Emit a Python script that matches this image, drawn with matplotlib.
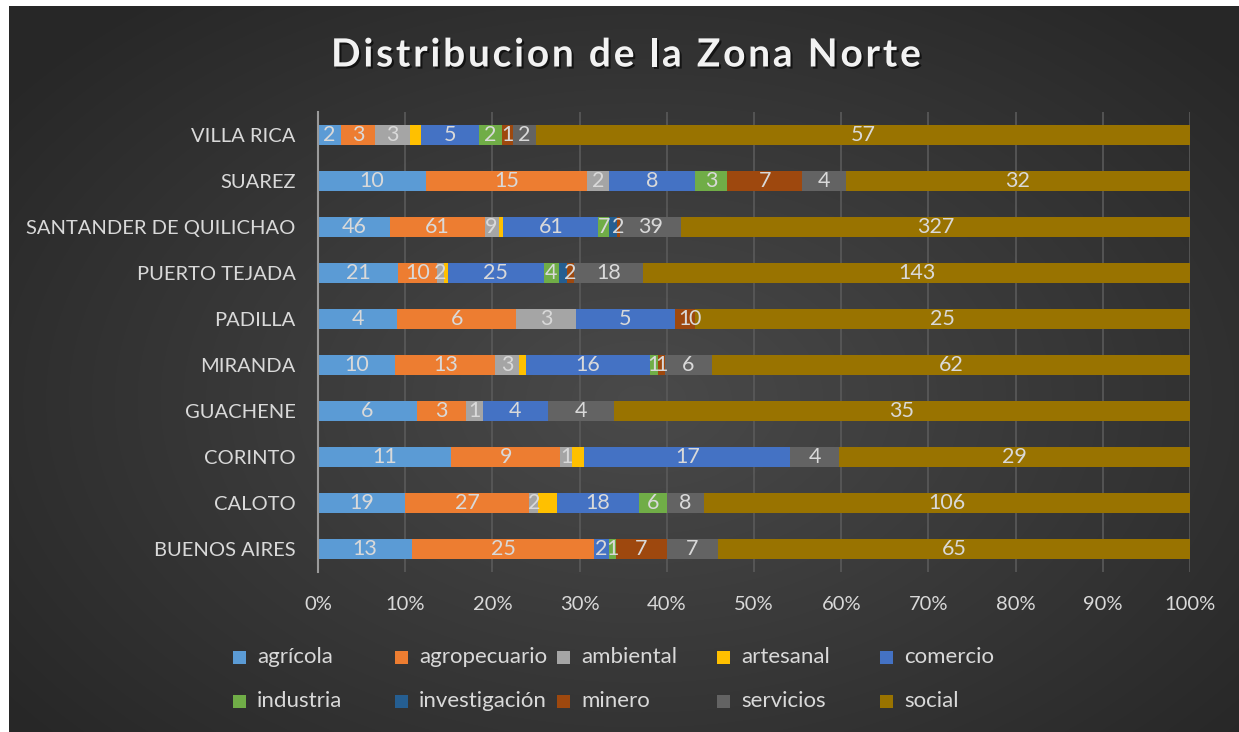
import numpy as np
import matplotlib
matplotlib.use("Agg")
import matplotlib.pyplot as plt
import matplotlib.patheffects as pe
from matplotlib.patches import Rectangle

# ---------------- data ----------------
categories = ["BUENOS AIRES", "CALOTO", "CORINTO", "GUACHENE", "MIRANDA",
              "PADILLA", "PUERTO TEJADA", "SANTANDER DE QUILICHAO", "SUAREZ", "VILLA RICA"]

series_names = ["agrícola", "agropecuario", "ambiental", "artesanal", "comercio",
                "industria", "investigación", "minero", "servicios", "social"]

agricola      = [13, 19, 11, 6, 10, 4, 21, 46, 10, 2]
agropecuario  = [25, 27, 9, 3, 13, 6, 10, 61, 15, 3]
ambiental     = [None, 2, 1, 1, 3, 3, 2, 9, 2, 3]
artesanal     = [None, 4, 1, None, 1, None, 1, 3, None, 1]
comercio      = [2, 18, 17, 4, 16, 5, 25, 61, 8, 5]
industria     = [1, 6, None, None, 1, None, 4, 7, 3, 2]
investigacion = [None, None, None, None, None, None, 2, 5, None, None]
minero        = [7, None, None, None, 1, 1, 2, 2, 7, 1]
servicios     = [7, 8, 4, 4, 6, 0, 18, 39, 4, 2]
social        = [65, 106, 29, 35, 62, 25, 143, 327, 32, 57]

series_values = [agricola, agropecuario, ambiental, artesanal, comercio,
                 industria, investigacion, minero, servicios, social]
series_colors = ["#5B9BD5", "#ED7D31", "#A5A5A5", "#FFC000", "#4472C4",
                 "#70AD47", "#255E91", "#9E480E", "#636363", "#997300"]
show_labels = [True, True, True, False, True, True, False, True, True, True]

xtick_vals = np.arange(0, 101, 10)
xtick_labels = [f"{v}%" for v in xtick_vals]
title = "Distribucion de la Zona Norte"

# ---------------- figure ----------------
W, H, DPI = 1239, 732, 100
fig = plt.figure(figsize=(W / DPI, H / DPI), dpi=DPI)
FONT = "Lato"
TXT = "#D9D9D9"

# background (radial gradient with white margin at top/left)
bg = fig.add_axes([0, 0, 1, 1], zorder=0)
bg.set_xlim(0, W)
bg.set_ylim(H, 0)
bg.axis("off")
yy, xx = np.mgrid[0:H, 0:W]
d = np.sqrt(((xx - 640) / 800.0) ** 2 + ((yy - 400) / 520.0) ** 2)
d = np.clip(d, 0, 1)
g = (0x4A - (0x4A - 0x27) * d) / 255.0
img = np.dstack([g, g, g])
img[:6, :, :] = 1.0
img[:, :9, :] = 1.0
bg.imshow(img, extent=(0, W, H, 0), aspect="auto", interpolation="bilinear")

# main axes
left, right = 318 / W, 1190 / W
top, bottom = 1 - 112 / H, 1 - 572 / H
ax = fig.add_axes([left, bottom, right - left, top - bottom], zorder=2)
ax.patch.set_alpha(0)

totals = np.zeros(len(categories))
for vals in series_values:
    totals += np.array([v if v is not None else 0 for v in vals], dtype=float)

ypos = np.arange(len(categories))
cum = np.zeros(len(categories))
bar_h = 0.44
for name, vals, col, lab in zip(series_names, series_values, series_colors, show_labels):
    raw = np.array([v if v is not None else 0 for v in vals], dtype=float)
    pct = raw / totals * 100
    ax.barh(ypos, pct, left=cum, height=bar_h, color=col, edgecolor="none", zorder=3,
            label=name)
    if lab:
        for i, v in enumerate(vals):
            if v is None:
                continue
            ax.text(cum[i] + pct[i] / 2, ypos[i], str(v), ha="center", va="center",
                    color=TXT, fontsize=15.5, family=FONT, zorder=5)
    cum += pct

ax.set_xlim(0, 100)
ax.set_ylim(-0.5, len(categories) - 0.5)
ax.set_xticks(xtick_vals)
ax.set_xticklabels(xtick_labels)
ax.set_yticks(ypos)
ax.set_yticklabels(categories)
for t in ax.get_xticklabels() + ax.get_yticklabels():
    t.set_family(FONT)
    t.set_fontsize(14.5)
    t.set_color(TXT)
ax.tick_params(axis="x", length=0, pad=17)
ax.tick_params(axis="y", length=0, pad=16)
for s in ["top", "right", "bottom"]:
    ax.spines[s].set_visible(False)
ax.spines["left"].set_color("#9A9A9A")
ax.spines["left"].set_linewidth(1.5)
ax.spines["left"].set_zorder(4)
ax.xaxis.grid(True, color="#5A5A5A", linewidth=1.2, zorder=1)
ax.set_axisbelow(True)

# ---------------- title with letter spacing ----------------
renderer = fig.canvas.get_renderer()
tprops = dict(family=FONT, fontsize=28, fontweight="bold")


def text_width(s):
    t = fig.text(0, 0, s, **tprops)
    w = t.get_window_extent(renderer).width
    t.remove()
    return w


natural = text_width(title)
n = len(title)
target = 921 - 331
sp = (target - natural) / (n - 1)
x0 = 331
tcy = 55
for i, ch in enumerate(title):
    if ch == " ":
        continue
    lx = text_width(title[: i + 1]) - text_width(ch)
    bg.text(x0 + lx + i * sp, tcy, ch, ha="left", va="center", color="#F2F2F2",
            path_effects=[pe.SimplePatchShadow(offset=(1.5, -1.5), shadow_rgbFace="black",
                                               alpha=0.6), pe.Normal()],
            **tprops)

# ---------------- legend (Excel-style fixed grid) ----------------
col_x = [233, 395, 557, 717, 880]
row_y = [657, 701]
sq = 13
for k, (name, col) in enumerate(zip(series_names, series_colors)):
    r, c = divmod(k, 5)
    x, y = col_x[c], row_y[r]
    bg.add_patch(Rectangle((x, y - sq / 2), sq, sq, facecolor=col, edgecolor="none"))
    bg.text(x + sq + 11, y, name, ha="left", va="center", color=TXT, fontsize=16,
            family=FONT)

fig.savefig("out.png", dpi=DPI)
